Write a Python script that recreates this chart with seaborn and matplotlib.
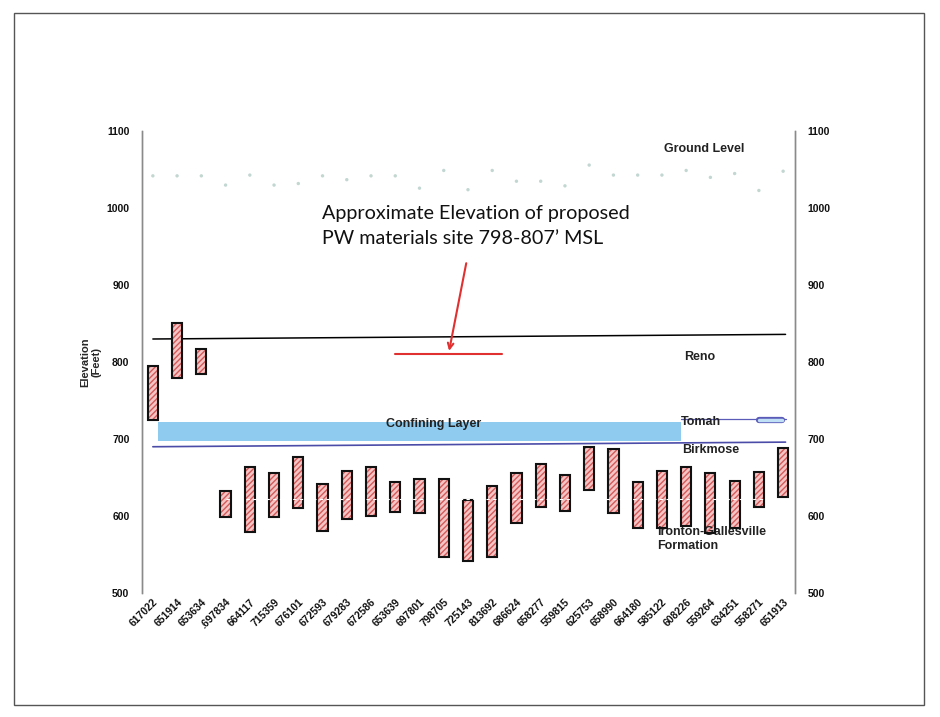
import numpy as np
import pandas as pd
import matplotlib.pyplot as plt
import seaborn as sns

# well ids along the cross-section
wells = ['617022', '651914', '653634', '.697834', '664117', '715359', '676101',
         '672593', '679283', '672586', '653639', '697801', '798705', '725143',
         '813692', '686624', '658277', '559815', '625753', '658990', '664180',
         '585122', '608226', '559264', '634251', '558271', '651913']

# screened interval of each well (feet MSL)
screen_top = [795, 851, 817, 632, 664, 656, 677, 642, 659, 664, 644, 648, 648, 621,
              639, 656, 668, 653, 690, 687, 644, 659, 664, 656, 646, 657, 688]
screen_bottom = [725, 779, 784, 599, 579, 599, 610, 581, 596, 600, 605, 604, 547, 542,
                 547, 591, 612, 607, 634, 604, 584, 584, 587, 578, 584, 612, 625]

# ground surface at each well
ground = [1042, 1042, 1042, 1030, 1043, 1030, 1032, 1042, 1037, 1042, 1042, 1026,
          1049, 1024, 1049, 1035, 1035, 1029, 1056, 1043, 1043, 1043, 1049, 1040,
          1045, 1023, 1048]

# layer surfaces
reno_top = [830, 836]
birkmose_top = [690, 696]
confining_top = 722
confining_bottom = 697
confining_end = 21.8
tomah_line = 726
site_elev = 810

df = pd.DataFrame({'well': wells, 'top': screen_top, 'bottom': screen_bottom,
                   'ground': ground})
df['pos'] = np.arange(len(df))
df['length'] = df['top'] - df['bottom']

sns.set_style('white')
plt.rcParams['font.family'] = ['Liberation Sans', 'DejaVu Sans']

fig = plt.figure(figsize=(9.4, 7.17), dpi=100)
ax = fig.add_axes([0.151, 0.173, 0.695, 0.644])

# page border from the scan
fig.patches.append(plt.Rectangle((0.015, 0.017), 0.968, 0.965, transform=fig.transFigure,
                                 fill=False, edgecolor='#555555', linewidth=1.0))

# ground level points
sns.scatterplot(data=df, x='pos', y='ground', ax=ax, s=6, color='#a9c6be',
                edgecolor='none', alpha=0.7, legend=False, zorder=3)

# confining layer band
ax.fill_between([0.2, confining_end], confining_bottom, confining_top,
                color='#8ecbee', linewidth=0, zorder=1)

# formation lines
n = len(df) - 1
ax.plot([0, n + 0.1], reno_top, color='black', lw=1.1, zorder=2)
ax.plot([0, n + 0.1], birkmose_top, color='#4b4ba8', lw=1.2, zorder=2)
ax.plot([confining_end, n + 0.1], [tomah_line, tomah_line], color='#5a5ab8', lw=0.9, zorder=2)
ax.plot([25.0, 25.95], [tomah_line - 1, tomah_line - 1], color='#5a5ab8', lw=4.5,
        solid_capstyle='round', zorder=2)
ax.plot([25.0, 25.95], [tomah_line - 1, tomah_line - 1], color='#bfe0f5', lw=2.5,
        solid_capstyle='round', zorder=2)

# screened intervals
plt.rcParams['hatch.linewidth'] = 1.0
ax.bar(df['pos'], df['length'], bottom=df['bottom'], width=0.42, color='#f6c4c4',
       edgecolor='#d45a5a', hatch='//////', linewidth=0, zorder=3)
ax.bar(df['pos'], df['length'], bottom=df['bottom'], width=0.42, fill=False,
       edgecolor='#111111', linewidth=1.5, zorder=4)
ax.hlines(622, 3, n + 0.3, color='white', lw=0.8, linestyles=(0, (3, 3)), zorder=5)

# proposed site
ax.plot([10.0, 14.4], [site_elev, site_elev], color='#e03030', lw=1.5, zorder=5)
ax.annotate('', xy=(12.2, site_elev + 1), xytext=(12.95, 932),
            arrowprops=dict(arrowstyle='->', color='#e03030', lw=1.5), zorder=5)
ax.text(6.97, 1004, 'Approximate Elevation of proposed\nPW materials site 798-807\u2019 MSL',
        fontsize=14.2, family=['Lato', 'DejaVu Sans'], ha='left', va='top',
        linespacing=1.6, color='#111111')

lab = dict(fontsize=9, fontweight='bold', color='#222222')
ax.text(21.1, 1077, 'Ground Level', ha='left', va='center', **lab)
ax.text(21.9, 806, 'Reno', ha='left', va='center', **lab)
ax.text(11.6, 720, 'Confining Layer', ha='center', va='center', **lab)
ax.text(21.8, 722, 'Tomah', ha='left', va='center', **lab)
ax.text(21.85, 686, 'Birkmose', ha='left', va='center', **lab)
ax.text(20.8, 570, 'Ironton-Gallesville\nFormation', ha='left', va='center',
        linespacing=1.25, **lab)

ax.set_xlim(-0.45, 26.5)
ax.set_ylim(500, 1100)
ax.set_xticks(df['pos'])
ax.set_xticklabels(df['well'], rotation=45, ha='right', rotation_mode='anchor',
                   fontsize=7.5, fontweight='bold', color='#111111')
ax.set_yticks(range(500, 1101, 100))
ax.tick_params(axis='y', length=0, pad=9, labelsize=7.5, labelcolor='#111111')
ax.tick_params(axis='x', length=0, pad=3)
for lbl in ax.get_yticklabels():
    lbl.set_fontweight('bold')
ax.set_xlabel('')
ax.set_ylabel('Elevation\n(Feet)', fontsize=8, fontweight='bold', linespacing=1.1)
ax.yaxis.set_label_coords(-0.062, 0.5)

ax2 = ax.twinx()
ax2.set_ylim(500, 1100)
ax2.set_yticks(range(500, 1101, 100))
ax2.tick_params(axis='y', length=0, pad=9, labelsize=7.5, labelcolor='#111111')
for lbl in ax2.get_yticklabels():
    lbl.set_fontweight('bold')

for a in (ax, ax2):
    for side in ('top', 'bottom'):
        a.spines[side].set_visible(False)
    for side in ('left', 'right'):
        a.spines[side].set_color('#8a8a8a')
        a.spines[side].set_linewidth(1.0)

fig.savefig('out.png', dpi=100)
